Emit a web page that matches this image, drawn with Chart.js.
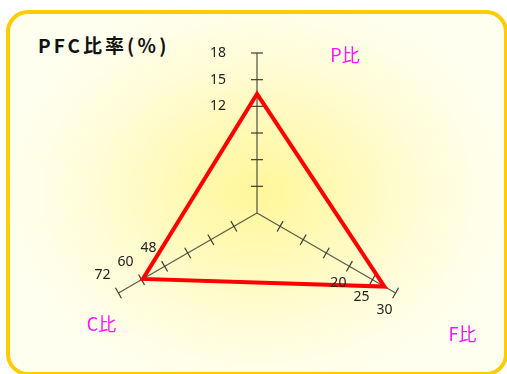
<!DOCTYPE html>
<html>
<head>
<meta charset="utf-8">
<script src="https://cdn.jsdelivr.net/npm/chart.js@4.4.1/dist/chart.umd.min.js"></script>
<style>
html, body { margin: 0; padding: 0; width: 507px; height: 374px; overflow: hidden; background: #fff; }
#box {
    position: absolute; left: 6px; top: 10px; width: 494px; height: 358px;
    border: 4px solid #ffcc00; border-radius: 22px;
    background: radial-gradient(ellipse 250px 200px at 248px 178px, #fff79a 0%, #fff9b4 30%, #fffcd4 62%, #fffff0 100%);
}
#title {
    position: absolute; left: 38px; top: 31px; letter-spacing: 3px;
    font: bold 19px "Noto Sans CJK JP", sans-serif; color: #111;
}
#c { position: absolute; left: 0; top: 0; }
</style>
</head>
<body>
<div id="box"></div>
<div id="title">PFC比率(％)</div>
<canvas id="c" width="507" height="374"></canvas>
<script>
// axes in drawing order: top, lower right, lower left
const axisLabels = ['P比', 'F比', 'C比'];
const axisMax = [18, 30, 72];
const pfcValues = [13.4, 27.6, 59.3];
const tickLabels = [[12, 15, 18], [20, 25, 30], [48, 60, 72]];
const steps = 6;

// each axis has its own scale, so map values onto 0..steps
const scaled = pfcValues.map((v, i) => v / axisMax[i] * steps);

// label offsets relative to the tick / axis end
const tickLabelOffset = [[-31, 0, 'right'], [-11, 17, 'center'], [-16, -18, 'center']];
const axisLabelOffset = [[88, 2], [67, 41], [-17, 31]];

const axisTicks = {
    id: 'axisTicks',
    beforeDatasetsDraw(chart) {
        const s = chart.scales.r;
        const ctx = chart.ctx;
        ctx.save();
        ctx.strokeStyle = '#3c3c30';
        ctx.lineWidth = 1.2;
        for (let i = 0; i < axisLabels.length; i++) {
            const a = s.getIndexAngle(i) - Math.PI / 2;
            const px = -Math.sin(a), py = Math.cos(a);
            for (let k = 1; k <= steps; k++) {
                const p = s.getPointPosition(i, s.getDistanceFromCenterForValue(k));
                ctx.beginPath();
                ctx.moveTo(p.x - px * 6, p.y - py * 6);
                ctx.lineTo(p.x + px * 6, p.y + py * 6);
                ctx.stroke();
            }
        }
        ctx.restore();
    },
    afterDraw(chart) {
        const s = chart.scales.r;
        const ctx = chart.ctx;
        ctx.save();
        ctx.textBaseline = 'middle';
        ctx.font = '14px "Noto Sans", sans-serif';
        ctx.fillStyle = '#222';
        for (let i = 0; i < axisLabels.length; i++) {
            const off = tickLabelOffset[i];
            ctx.textAlign = off[2];
            tickLabels[i].forEach((t, j) => {
                const k = steps - tickLabels[i].length + 1 + j;
                const p = s.getPointPosition(i, s.getDistanceFromCenterForValue(k));
                ctx.fillText(String(t), p.x + off[0], p.y + off[1]);
            });
        }
        ctx.font = '18px "Noto Sans CJK JP", sans-serif';
        ctx.fillStyle = '#ff11ff';
        ctx.textAlign = 'center';
        for (let i = 0; i < axisLabels.length; i++) {
            const p = s.getPointPosition(i, s.getDistanceFromCenterForValue(steps));
            ctx.fillText(axisLabels[i], p.x + axisLabelOffset[i][0], p.y + axisLabelOffset[i][1]);
        }
        ctx.restore();
    }
};

new Chart(document.getElementById('c'), {
    type: 'radar',
    data: {
        labels: axisLabels,
        datasets: [{
            label: 'PFC比率',
            data: scaled,
            borderColor: '#ff0000',
            borderWidth: 4,
            borderJoinStyle: 'miter',
            fill: false,
            pointRadius: 0,
            pointHoverRadius: 0
        }]
    },
    options: {
        responsive: false,
        animation: false,
        layout: { padding: { left: 97, right: 90, top: 53, bottom: 1 } },
        plugins: { legend: { display: false }, tooltip: { enabled: false } },
        scales: {
            r: {
                min: 0,
                max: steps,
                ticks: { display: false },
                grid: { display: false },
                angleLines: { color: '#5d5d4b', lineWidth: 1.3 },
                pointLabels: { display: false }
            }
        }
    },
    plugins: [axisTicks]
});
</script>
</body>
</html>
